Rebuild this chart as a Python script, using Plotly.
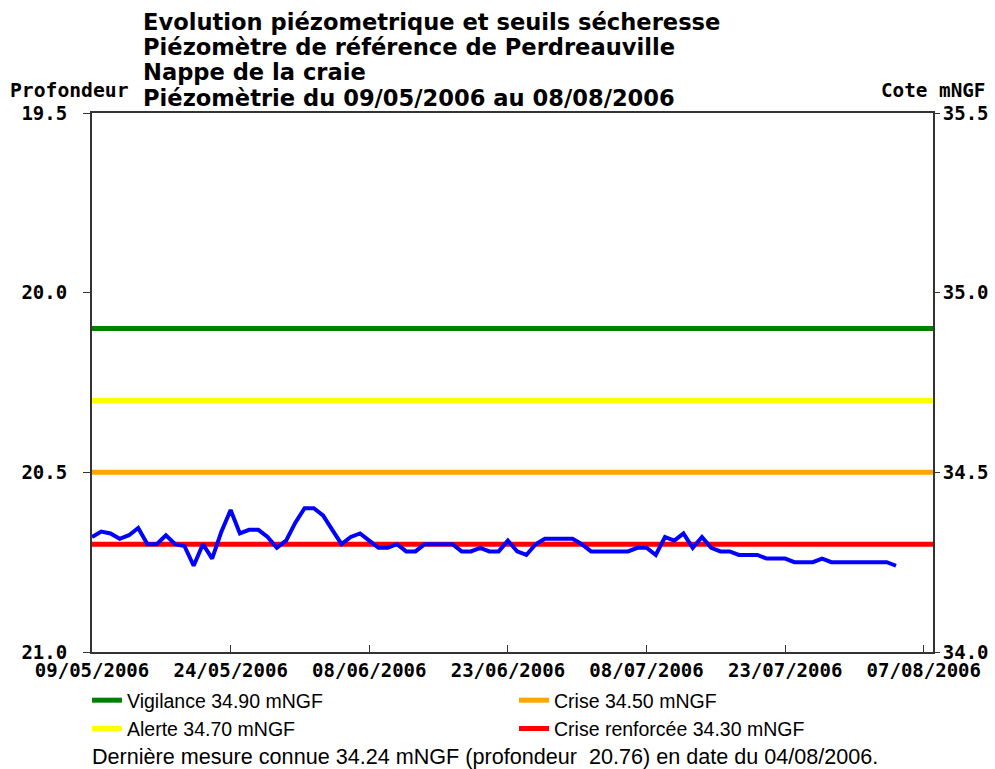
import plotly.graph_objects as go
import pandas as pd

# ---------------- data ----------------
START_DATE = "2006-05-09"
END_DATE = "2006-08-08"

# daily piezometric level (mNGF) from 09/05/2006 to 04/08/2006
cote_mngf = [
    34.32, 34.335, 34.33, 34.315, 34.325, 34.345, 34.30, 34.30, 34.325, 34.30,
    34.295, 34.24, 34.30, 34.26, 34.335, 34.395, 34.33, 34.34, 34.34, 34.32,
    34.29, 34.31, 34.36, 34.40, 34.40, 34.38, 34.34, 34.30, 34.32, 34.33,
    34.31, 34.29, 34.29, 34.30, 34.28, 34.28, 34.30, 34.30, 34.30, 34.30,
    34.28, 34.28, 34.29, 34.28, 34.28, 34.31, 34.28, 34.27, 34.30, 34.315,
    34.315, 34.315, 34.315, 34.30, 34.28, 34.28, 34.28, 34.28, 34.28, 34.29,
    34.29, 34.27, 34.32, 34.31, 34.33, 34.29, 34.32, 34.29, 34.28, 34.28,
    34.27, 34.27, 34.27, 34.26, 34.26, 34.26, 34.25, 34.25, 34.25, 34.26,
    34.25, 34.25, 34.25, 34.25, 34.25, 34.25, 34.25, 34.24,
]
LAST_DEPTH = 20.76

threshold_names = ["Vigilance", "Crise", "Alerte", "Crise renforcée"]
threshold_values = [34.90, 34.50, 34.70, 34.30]
threshold_colors = ["#008000", "#FFA500", "#FFFF00", "#FF0000"]

x_tick_dates = ["2006-05-09", "2006-05-24", "2006-06-08", "2006-06-23",
                "2006-07-08", "2006-07-23", "2006-08-07"]
x_tick_labels = ["09/05/2006", "24/05/2006", "08/06/2006", "23/06/2006",
                 "08/07/2006", "23/07/2006", "07/08/2006"]

depth_ticks = [19.5, 20.0, 20.5, 21.0]
depth_tick_labels = ["19.5", "20.0", "20.5", "21.0"]
cote_ticks = [35.5, 35.0, 34.5, 34.0]
cote_tick_labels = ["35.5", "35.0", "34.5", "34.0"]

title_lines = [
    "Evolution piézometrique et seuils sécheresse",
    "Piézomètre de référence de Perdreauville",
    "Nappe de la craie",
    "Piézomètrie du 09/05/2006 au 08/08/2006",
]

# ---------------- figure ----------------
dates = pd.date_range(START_DATE, periods=len(cote_mngf), freq="D")

MONO = "DejaVu Sans Mono"
SANS = "Liberation Sans Narrow, Liberation Sans, Arial, sans-serif"

fig = go.Figure()

# invisible trace anchoring the depth (left) axis
fig.add_trace(go.Scatter(
    x=[dates[-1]], y=[LAST_DEPTH], yaxis="y", mode="markers",
    marker=dict(opacity=0), showlegend=False, hoverinfo="skip"))

for name, val, col in zip(threshold_names, threshold_values, threshold_colors):
    fig.add_trace(go.Scatter(
        x=[START_DATE, END_DATE], y=[val, val], yaxis="y2", mode="lines",
        line=dict(color=col, width=5),
        name=f"{name} {val:.2f} mNGF"))

fig.add_trace(go.Scatter(
    x=dates, y=cote_mngf, yaxis="y2", mode="lines",
    line=dict(color="#0000FF", width=4), showlegend=False, name="Piézométrie"))

PL, PR, PT, PB = 92, 62, 113, 117
W, H = 995, 769
PH = H - PT - PB


def py(ypx):
    return (H - PB - ypx) / PH


def px(xpx):
    return (xpx - PL) / (W - PL - PR)


annotations = []
for line, yc in zip(title_lines, [22, 47, 72, 98]):
    annotations.append(dict(
        text=line, xref="paper", yref="paper", x=px(141), y=py(yc),
        xanchor="left", yanchor="middle", showarrow=False,
        font=dict(family="DejaVu Sans", size=22.6, color="black", weight="bold")))

annotations.append(dict(
    text="Profondeur", xref="paper", yref="paper", x=px(8), y=py(91),
    xanchor="left", yanchor="middle", showarrow=False,
    font=dict(family=MONO, size=19.7, color="black", weight="bold")))
annotations.append(dict(
    text="Cote mNGF", xref="paper", yref="paper", x=px(987), y=py(91),
    xanchor="right", yanchor="middle", showarrow=False,
    font=dict(family=MONO, size=19.3, color="black", weight="bold")))

annotations.append(dict(
    text=(f"Dernière mesure connue {cote_mngf[-1]:.2f} mNGF (profondeur  "
          f"{LAST_DEPTH:.2f}) en date du {dates[-1]:%d/%m/%Y}."),
    xref="paper", yref="paper", x=px(90), y=py(756),
    xanchor="left", yanchor="middle", showarrow=False,
    font=dict(family=SANS, size=21.6, color="black")))

tickfont = dict(family=MONO, size=19, color="black", weight="bold")

fig.update_layout(
    width=W, height=H,
    margin=dict(l=PL, r=PR, t=PT, b=PB, autoexpand=False),
    paper_bgcolor="white", plot_bgcolor="white",
    showlegend=True,
    legend=dict(
        orientation="h", x=px(87), xanchor="left", y=py(681), yanchor="top",
        entrywidth=382, entrywidthmode="pixels", traceorder="normal",
        font=dict(family=SANS, size=19.5, color="black"),
        bgcolor="rgba(0,0,0,0)", itemclick=False, tracegroupgap=0),
    xaxis=dict(
        type="date", range=[START_DATE, END_DATE],
        tickvals=x_tick_dates, ticktext=x_tick_labels,
        ticks="inside", ticklen=7, tickwidth=1, tickcolor="#333",
        showline=True, linecolor="#333", linewidth=2, mirror=True,
        showgrid=False, zeroline=False, tickfont=tickfont),
    yaxis=dict(
        range=[21.0, 19.5], tickvals=depth_ticks, ticktext=depth_tick_labels,
        ticks="outside", ticklen=7, tickwidth=1, tickcolor="#333",
        showline=True, linecolor="#333", linewidth=2, mirror=True,
        showgrid=False, zeroline=False, tickfont=tickfont,
        ticklabelstandoff=12),
    yaxis2=dict(
        range=[34.0, 35.5], tickvals=cote_ticks, ticktext=cote_tick_labels,
        overlaying="y", side="right",
        ticks="outside", ticklen=5, tickwidth=1, tickcolor="#333",
        showline=True, linecolor="#333", linewidth=2,
        showgrid=False, zeroline=False, tickfont=tickfont,
        ticklabelstandoff=-1),
    annotations=annotations,
)

fig.write_html("out.html", config={"displayModeBar": False},
               post_script="document.body.style.margin='0';")
